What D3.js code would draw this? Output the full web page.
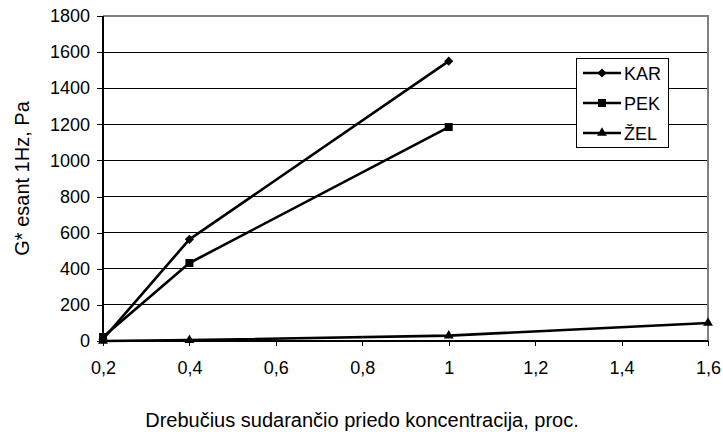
<!DOCTYPE html>
<html>
<head>
<meta charset="utf-8">
<script src="https://cdn.jsdelivr.net/npm/d3@7"></script>
<style>
  html, body { margin: 0; padding: 0; background: #fff; }
  svg { display: block; font-family: "Liberation Sans", Arial, sans-serif; }
</style>
</head>
<body>
<svg id="chart" width="723" height="432"></svg>
<script>
// Concentration (%) on the x axis
const concKar = [0.2, 0.4, 1.0];
const concPek = [0.2, 0.4, 1.0];
const concZel = [0.2, 0.4, 1.0, 1.6];

// G* at 1 Hz, Pa
const valuesKar = [10, 563, 1550];
const valuesPek = [22, 432, 1185];
const valuesZel = [0, 5, 30, 100];

const seriesNames = ["KAR", "PEK", "ŽEL"];
const xTicks = [0.2, 0.4, 0.6, 0.8, 1.0, 1.2, 1.4, 1.6];
const yTicks = [0, 200, 400, 600, 800, 1000, 1200, 1400, 1600, 1800];

const yTitle = "G* esant 1Hz, Pa";
const xTitle = "Drebučius sudarančio priedo koncentracija, proc.";

const svg = d3.select("#chart");
const plotLeft = 103, plotRight = 708, plotTop = 16, plotBottom = 341;

const x = d3.scaleLinear().domain([0.2, 1.6]).range([plotLeft, plotRight]);
const y = d3.scaleLinear().domain([0, 1800]).range([plotBottom, plotTop]);

const fmt = d => String(+d.toFixed(1)).replace(".", ",");

// horizontal gridlines
svg.append("g").selectAll("line").data(yTicks.filter(d => d > 0)).join("line")
  .attr("x1", plotLeft).attr("x2", plotRight)
  .attr("y1", d => y(d)).attr("y2", d => y(d))
  .attr("stroke", "#000").attr("stroke-width", 1).attr("shape-rendering", "crispEdges");

// plot area frame (top and right)
svg.append("path")
  .attr("d", `M${plotLeft},${plotTop}H${plotRight}V${plotBottom}`)
  .attr("fill", "none").attr("stroke", "#808080").attr("stroke-width", 1.3)
  .attr("shape-rendering", "crispEdges");

// axes
const yAxis = d3.axisLeft(y).tickValues(yTicks).tickSize(6).tickPadding(7).tickFormat(d3.format("d"));
const gy = svg.append("g").attr("transform", `translate(${plotLeft},0)`).call(yAxis);
const xAxis = d3.axisBottom(x).tickValues(xTicks).tickSize(5).tickPadding(15).tickFormat(fmt);
const gx = svg.append("g").attr("transform", `translate(0,${plotBottom})`).call(xAxis);

[gx, gy].forEach(g => {
  g.select(".domain").attr("stroke", "#000").attr("stroke-width", 1.3).attr("shape-rendering", "crispEdges");
  g.selectAll(".tick line").attr("stroke", "#000").attr("shape-rendering", "crispEdges");
  g.selectAll("text").attr("font-size", 18).attr("fill", "#000")
    .attr("font-family", "Liberation Sans, Arial, sans-serif");
});
gx.select(".domain").attr("d", `M${plotLeft},0H${plotRight}`);
gy.select(".domain").attr("d", `M0,${plotBottom}V${plotTop}`);

// series; the diamond is a square turned by 45 degrees
const series = [
  { name: seriesNames[0], xs: concKar, ys: valuesKar, symbol: d3.symbolSquare, size: 42, rot: 45 },
  { name: seriesNames[1], xs: concPek, ys: valuesPek, symbol: d3.symbolSquare, size: 64, rot: 0 },
  { name: seriesNames[2], xs: concZel, ys: valuesZel, symbol: d3.symbolTriangle, size: 42, rot: 0 }
];

const line = d3.line().x(d => x(d[0])).y(d => y(d[1]));

series.forEach(s => {
  const pts = s.xs.map((v, i) => [v, s.ys[i]]);
  svg.append("path").datum(pts)
    .attr("d", line).attr("fill", "none")
    .attr("stroke", "#000").attr("stroke-width", 2.6).attr("stroke-linejoin", "round");
  svg.append("g").selectAll("path").data(pts).join("path")
    .attr("transform", d => `translate(${x(d[0])},${y(d[1])}) rotate(${s.rot})`)
    .attr("d", d3.symbol().type(s.symbol).size(s.size))
    .attr("fill", "#000");
});

// legend
const lg = svg.append("g").attr("transform", "translate(576,58)");
lg.append("rect").attr("width", 92).attr("height", 89)
  .attr("fill", "#fff").attr("stroke", "#000").attr("stroke-width", 1)
  .attr("shape-rendering", "crispEdges");
series.forEach((s, i) => {
  const cy = 15 + i * 30;
  lg.append("line").attr("x1", 7).attr("x2", 45).attr("y1", cy).attr("y2", cy)
    .attr("stroke", "#000").attr("stroke-width", 2.6);
  lg.append("path").attr("transform", `translate(26,${cy}) rotate(${s.rot})`)
    .attr("d", d3.symbol().type(s.symbol).size(s.size)).attr("fill", "#000");
  lg.append("text").attr("x", 48).attr("y", cy + 6.5)
    .attr("font-size", 18).attr("fill", "#000").text(s.name);
});

// axis titles
svg.append("text")
  .attr("transform", `translate(29,${(plotTop + plotBottom) / 2}) rotate(-90)`)
  .attr("text-anchor", "middle").attr("font-size", 20).attr("fill", "#000")
  .text(yTitle);
svg.append("text")
  .attr("x", 362).attr("y", 427)
  .attr("text-anchor", "middle").attr("font-size", 20).attr("fill", "#000")
  .text(xTitle);
</script>
</body>
</html>
